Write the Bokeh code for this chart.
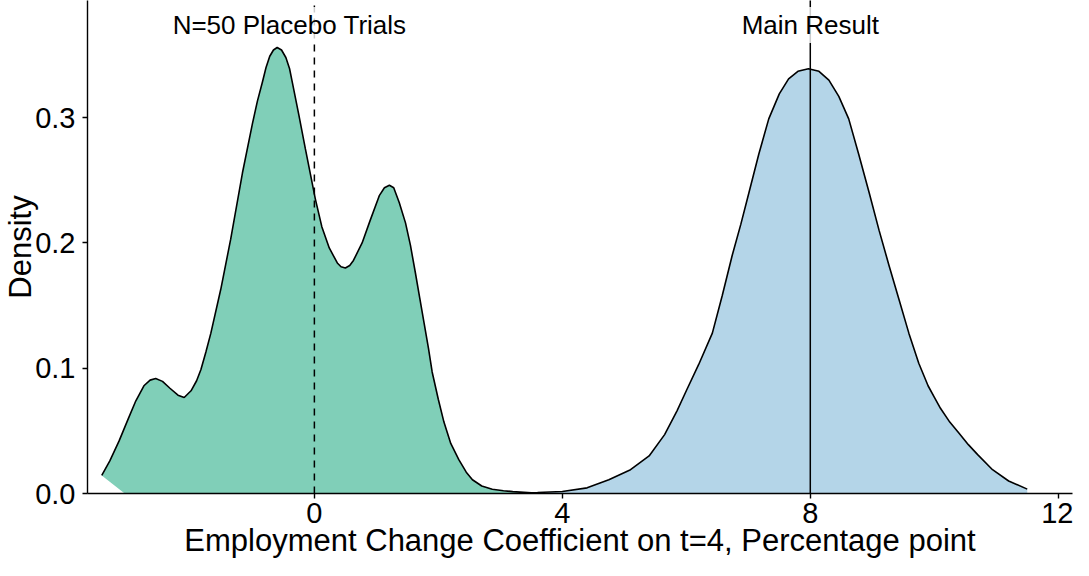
import math
from bokeh.plotting import figure
from bokeh.models import Range1d
from bokeh.embed import file_html
from bokeh.resources import INLINE
from bokeh.core.properties import value

# ---- data ----
placebo_x = [-3.43, -3.3, -3.15, -3.0, -2.88, -2.75, -2.65, -2.56, -2.45, -2.33,
             -2.2, -2.1, -1.99, -1.9, -1.83, -1.75, -1.67, -1.51, -1.35, -1.16,
             -1.0, -0.92, -0.84, -0.78, -0.72, -0.66, -0.6, -0.53, -0.46, -0.40,
             -0.355, -0.25, -0.145, 0.016, 0.12, 0.24, 0.37, 0.43, 0.5, 0.57,
             0.63, 0.77, 0.9, 1.05, 1.13, 1.21, 1.28, 1.37, 1.47, 1.55,
             1.63, 1.70, 1.77, 1.84, 1.90, 2.0, 2.09, 2.2, 2.33, 2.45,
             2.55, 2.7, 2.87, 3.05, 3.2, 3.5]
placebo_y = [0.0144, 0.026, 0.042, 0.060, 0.074, 0.086, 0.0905, 0.0918, 0.0895, 0.084,
             0.0785, 0.0766, 0.082, 0.090, 0.099, 0.113, 0.128, 0.163, 0.203, 0.256,
             0.295, 0.313, 0.328, 0.340, 0.349, 0.354, 0.356, 0.354, 0.348, 0.339,
             0.328, 0.302, 0.275, 0.235, 0.213, 0.196, 0.184, 0.181, 0.180, 0.182,
             0.186, 0.200, 0.218, 0.238, 0.244, 0.246, 0.244, 0.232, 0.216, 0.198,
             0.176, 0.156, 0.136, 0.116, 0.097, 0.075, 0.057, 0.040, 0.027, 0.017,
             0.011, 0.006, 0.0034, 0.0022, 0.0015, 0.0005]
placebo_fill_corner_x = -3.06

main_x = [3.3, 3.6, 4.0, 4.4, 4.75, 5.1, 5.4, 5.65, 5.85, 6.0,
          6.2, 6.42, 6.58, 6.74, 6.88, 7.01, 7.17, 7.33, 7.5, 7.65,
          7.8, 7.97, 8.14, 8.3, 8.46, 8.62, 8.78, 8.95, 9.11, 9.27,
          9.43, 9.59, 9.75, 9.9, 10.0, 10.1, 10.25, 10.4, 10.55, 10.7,
          10.94, 11.2, 11.5]
main_y = [0.0003, 0.0008, 0.0016, 0.0045, 0.011, 0.019, 0.030, 0.047, 0.066, 0.082,
          0.103, 0.128, 0.158, 0.190, 0.215, 0.240, 0.271, 0.299, 0.319, 0.331,
          0.337, 0.339, 0.337, 0.330, 0.317, 0.299, 0.271, 0.240, 0.210, 0.182,
          0.155, 0.128, 0.104, 0.086, 0.077, 0.068, 0.057, 0.048, 0.039, 0.031,
          0.019, 0.010, 0.0035]

placebo_line_x = [0]
main_line_x = [8]
label_x = [-0.4, 8.0]
label_y = [0.374, 0.374]
label_text = ["N=50 Placebo Trials", "Main Result"]

x_ticks = [0, 4, 8, 12]
y_ticks = [0.0, 0.1, 0.2, 0.3]
y_tick_labels = ["0.0", "0.1", "0.2", "0.3"]
x_title = "Employment Change Coefficient on t=4, Percentage point"
y_title = "Density"

X_RANGE = (-3.66, 12.23)
Y_RANGE = (0.0, 0.3935)
FONT = "Liberation Sans"

p = figure(width=1073, height=560, output_backend="svg", toolbar_location=None,
           x_range=Range1d(*X_RANGE), y_range=Range1d(*Y_RANGE),
           min_border_left=87, min_border_right=1, min_border_top=0,
           min_border_bottom=67)
p.outline_line_color = None
p.grid.visible = False
p.background_fill_color = "white"
p.border_fill_color = "white"

# fills
p.patch(placebo_x + [placebo_x[-1], placebo_fill_corner_x],
        placebo_y + [0, 0], fill_color="#80CFB8", line_color=None)
p.patch(main_x + [main_x[-1], main_x[0]], main_y + [0, 0],
        fill_color="#B4D5E8", line_color=None)
# outlines
p.line(placebo_x, placebo_y, line_color="black", line_width=1.6)
p.line(main_x, main_y, line_color="black", line_width=1.6)

# vertical reference lines
p.ray(x=placebo_line_x, y=[0] * len(placebo_line_x), length=0, angle=math.pi / 2,
      line_color="black", line_width=1.5, line_dash="7 6")
p.ray(x=main_line_x, y=[0] * len(main_line_x), length=0, angle=math.pi / 2,
      line_color="black", line_width=1.5)

# labels
p.text(x=label_x, y=label_y, text=label_text, text_font=value(FONT),
       text_font_size=value("26px"), text_color="black", text_align="center",
       text_baseline="middle", background_fill_color="white",
       background_fill_alpha=0.8, padding=3)

# axes
for ax in (p.xaxis, p.yaxis):
    ax.axis_line_color = "black"
    ax.axis_line_width = 1.4
    ax.major_tick_line_color = "black"
    ax.major_tick_line_width = 1.4
    ax.major_tick_out = 5
    ax.major_tick_in = 0
    ax.minor_tick_line_color = None
    ax.major_label_text_font = FONT
    ax.major_label_text_font_size = "29px"
    ax.major_label_text_color = "black"
    ax.axis_label_text_font = FONT
    ax.axis_label_text_font_size = "31px"
    ax.axis_label_text_font_style = "normal"
    ax.axis_label_text_color = "black"

p.xaxis.ticker = x_ticks
p.yaxis.ticker = y_ticks
p.yaxis.major_label_overrides = {t: s for t, s in zip(y_ticks, y_tick_labels)}
p.xaxis.axis_label = x_title
p.yaxis.axis_label = y_title
p.xaxis.major_label_standoff = 4
p.xaxis.axis_label_standoff = -3
p.yaxis.major_label_standoff = 7
p.yaxis.axis_label_standoff = -6

open("out.html", "w").write(file_html(p, INLINE))
